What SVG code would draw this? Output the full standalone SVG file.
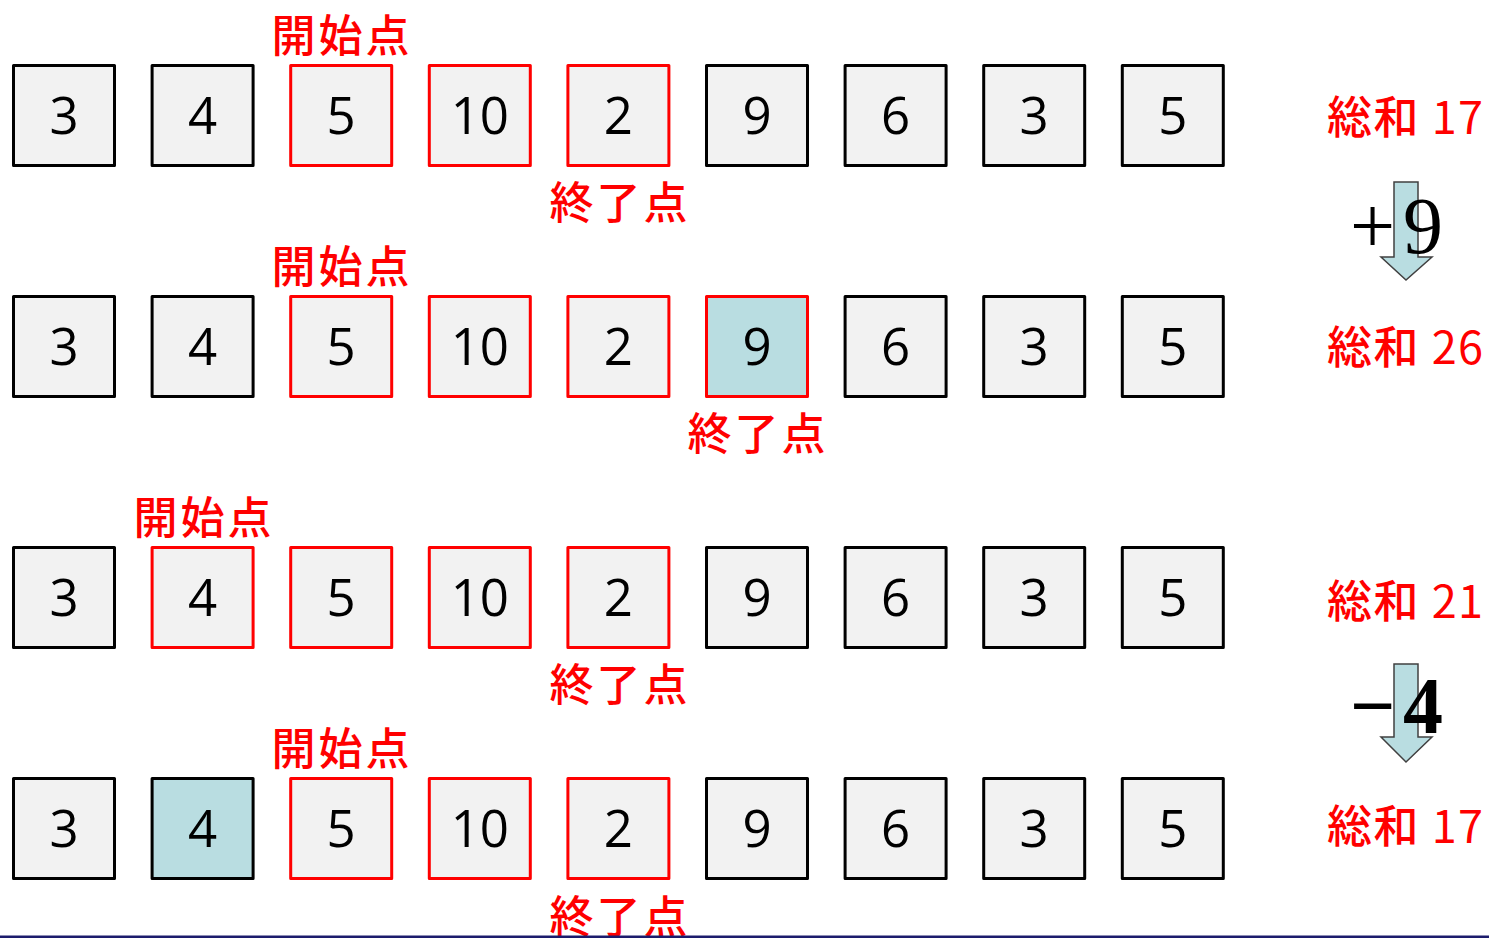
<svg xmlns="http://www.w3.org/2000/svg" width="1489" height="938" viewBox="0 0 1489 938">
<style>
.b{fill:#f2f2f2;stroke:#000;stroke-width:3;stroke-linejoin:round}
.r{stroke:#ff0000}
.h{fill:#b9dde1}
.n{font-family:"Open Sans","Noto Sans",sans-serif;font-size:51px;fill:#000;text-anchor:middle}
.lb{font-family:"Noto Sans CJK JP","Noto Sans",sans-serif;font-size:44px;font-weight:500;fill:#ff0000;text-anchor:middle;letter-spacing:3px}
.s{font-family:"Noto Sans CJK JP","Noto Sans",sans-serif;font-size:45px;font-weight:500;fill:#ff0000;letter-spacing:1.5px}
.d{font-weight:400}
.ar{fill:#b9dde1;stroke:#404040;stroke-width:1.5}
.op{font-family:"Liberation Serif",serif;font-size:80px;fill:#000}
</style>
<rect width="1489" height="938" fill="#fff"/>
<g id="row1">
<g id="r1c0"><rect class="b" x="13.5" y="65.5" width="101" height="100"/><text class="n" x="64" y="134">3</text></g>
<g id="r1c1"><rect class="b" x="152.1" y="65.5" width="101" height="100"/><text class="n" x="202.6" y="134">4</text></g>
<g id="r1c2"><rect class="b r" x="290.7" y="65.5" width="101" height="100"/><text class="n" x="341.2" y="134">5</text></g>
<g id="r1c3"><rect class="b r" x="429.3" y="65.5" width="101" height="100"/><text class="n" x="479.8" y="134">10</text></g>
<g id="r1c4"><rect class="b r" x="567.9" y="65.5" width="101" height="100"/><text class="n" x="618.4" y="134">2</text></g>
<g id="r1c5"><rect class="b" x="706.5" y="65.5" width="101" height="100"/><text class="n" x="757" y="134">9</text></g>
<g id="r1c6"><rect class="b" x="845.1" y="65.5" width="101" height="100"/><text class="n" x="895.6" y="134">6</text></g>
<g id="r1c7"><rect class="b" x="983.7" y="65.5" width="101" height="100"/><text class="n" x="1034.2" y="134">3</text></g>
<g id="r1c8"><rect class="b" x="1122.3" y="65.5" width="101" height="100"/><text class="n" x="1172.8" y="134">5</text></g>
<g id="r1start"><text class="lb" x="342" y="52">開始点</text></g>
<g id="r1end"><text class="lb" x="620" y="219">終了点</text></g>
<g id="r1sum"><text class="s" x="1327" y="134">総和 <tspan class="d">17</tspan></text></g>
</g>
<g id="row2">
<g id="r2c0"><rect class="b" x="13.5" y="296.5" width="101" height="100"/><text class="n" x="64" y="365">3</text></g>
<g id="r2c1"><rect class="b" x="152.1" y="296.5" width="101" height="100"/><text class="n" x="202.6" y="365">4</text></g>
<g id="r2c2"><rect class="b r" x="290.7" y="296.5" width="101" height="100"/><text class="n" x="341.2" y="365">5</text></g>
<g id="r2c3"><rect class="b r" x="429.3" y="296.5" width="101" height="100"/><text class="n" x="479.8" y="365">10</text></g>
<g id="r2c4"><rect class="b r" x="567.9" y="296.5" width="101" height="100"/><text class="n" x="618.4" y="365">2</text></g>
<g id="r2c5"><rect class="b r h" x="706.5" y="296.5" width="101" height="100"/><text class="n" x="757" y="365">9</text></g>
<g id="r2c6"><rect class="b" x="845.1" y="296.5" width="101" height="100"/><text class="n" x="895.6" y="365">6</text></g>
<g id="r2c7"><rect class="b" x="983.7" y="296.5" width="101" height="100"/><text class="n" x="1034.2" y="365">3</text></g>
<g id="r2c8"><rect class="b" x="1122.3" y="296.5" width="101" height="100"/><text class="n" x="1172.8" y="365">5</text></g>
<g id="r2start"><text class="lb" x="342" y="283">開始点</text></g>
<g id="r2end"><text class="lb" x="758" y="450">終了点</text></g>
<g id="r2sum"><text class="s" x="1327" y="364">総和 <tspan class="d">26</tspan></text></g>
</g>
<g id="row3">
<g id="r3c0"><rect class="b" x="13.5" y="547.5" width="101" height="100"/><text class="n" x="64" y="616">3</text></g>
<g id="r3c1"><rect class="b r" x="152.1" y="547.5" width="101" height="100"/><text class="n" x="202.6" y="616">4</text></g>
<g id="r3c2"><rect class="b r" x="290.7" y="547.5" width="101" height="100"/><text class="n" x="341.2" y="616">5</text></g>
<g id="r3c3"><rect class="b r" x="429.3" y="547.5" width="101" height="100"/><text class="n" x="479.8" y="616">10</text></g>
<g id="r3c4"><rect class="b r" x="567.9" y="547.5" width="101" height="100"/><text class="n" x="618.4" y="616">2</text></g>
<g id="r3c5"><rect class="b" x="706.5" y="547.5" width="101" height="100"/><text class="n" x="757" y="616">9</text></g>
<g id="r3c6"><rect class="b" x="845.1" y="547.5" width="101" height="100"/><text class="n" x="895.6" y="616">6</text></g>
<g id="r3c7"><rect class="b" x="983.7" y="547.5" width="101" height="100"/><text class="n" x="1034.2" y="616">3</text></g>
<g id="r3c8"><rect class="b" x="1122.3" y="547.5" width="101" height="100"/><text class="n" x="1172.8" y="616">5</text></g>
<g id="r3start"><text class="lb" x="204" y="534">開始点</text></g>
<g id="r3end"><text class="lb" x="620" y="701">終了点</text></g>
<g id="r3sum"><text class="s" x="1327" y="618">総和 <tspan class="d">21</tspan></text></g>
</g>
<g id="row4">
<g id="r4c0"><rect class="b" x="13.5" y="778.5" width="101" height="100"/><text class="n" x="64" y="847">3</text></g>
<g id="r4c1"><rect class="b h" x="152.1" y="778.5" width="101" height="100"/><text class="n" x="202.6" y="847">4</text></g>
<g id="r4c2"><rect class="b r" x="290.7" y="778.5" width="101" height="100"/><text class="n" x="341.2" y="847">5</text></g>
<g id="r4c3"><rect class="b r" x="429.3" y="778.5" width="101" height="100"/><text class="n" x="479.8" y="847">10</text></g>
<g id="r4c4"><rect class="b r" x="567.9" y="778.5" width="101" height="100"/><text class="n" x="618.4" y="847">2</text></g>
<g id="r4c5"><rect class="b" x="706.5" y="778.5" width="101" height="100"/><text class="n" x="757" y="847">9</text></g>
<g id="r4c6"><rect class="b" x="845.1" y="778.5" width="101" height="100"/><text class="n" x="895.6" y="847">6</text></g>
<g id="r4c7"><rect class="b" x="983.7" y="778.5" width="101" height="100"/><text class="n" x="1034.2" y="847">3</text></g>
<g id="r4c8"><rect class="b" x="1122.3" y="778.5" width="101" height="100"/><text class="n" x="1172.8" y="847">5</text></g>
<g id="r4start"><text class="lb" x="342" y="765">開始点</text></g>
<g id="r4end"><text class="lb" x="620" y="933">終了点</text></g>
<g id="r4sum"><text class="s" x="1327" y="843">総和 <tspan class="d">17</tspan></text></g>
</g>
<g id="connectors">
<g id="arrow1"><path class="ar" d="M1394,182 H1418 V257 H1432 L1406,280 L1381,257 H1394 Z"/><text class="op" y="253"><tspan x="1350">+</tspan><tspan x="1403">9</tspan></text></g>
<g id="arrow2"><path class="ar" d="M1394,664 H1418 V737 H1432 L1406,762 L1381,737 H1394 Z"/><text class="op" y="733" font-weight="bold"><tspan x="1350">−</tspan><tspan x="1403">4</tspan></text></g>
</g>
<rect x="0" y="935.5" width="1489" height="2.5" fill="#1c1c6c"/>
</svg>
